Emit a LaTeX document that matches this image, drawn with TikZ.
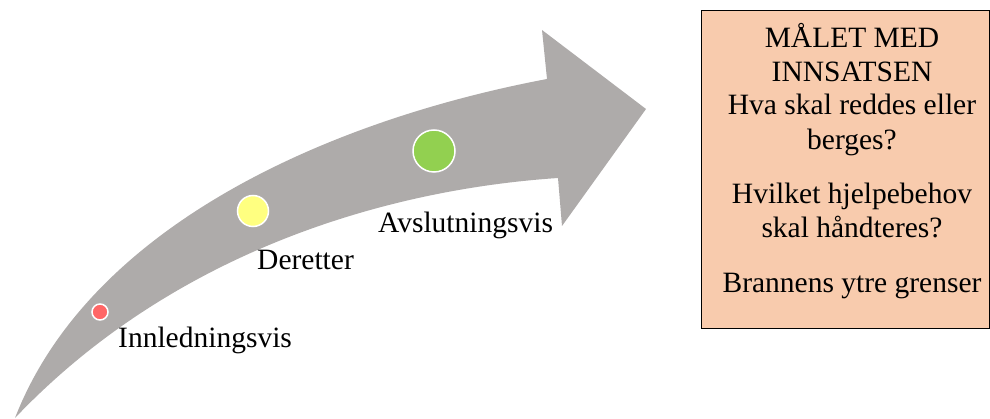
\documentclass[tikz,border=0pt]{standalone}
\usepackage{fontspec}
\setmainfont{Liberation Serif}
\definecolor{arrowgray}{RGB}{174,171,170}
\definecolor{dotred}{RGB}{255,102,102}
\definecolor{dotyellow}{RGB}{255,255,128}
\definecolor{dotgreen}{RGB}{146,208,80}
\definecolor{peach}{RGB}{248,203,173}
\begin{document}
\begin{tikzpicture}[x=1pt,y=-1pt,
  lbl/.style={font=\fontsize{29.5}{34}\selectfont, inner sep=0pt},
  dot/.style={circle, draw=white, line width=1.5pt, inner sep=0pt},
  goalbox/.style={draw=black, line width=0.8pt, fill=peach}]
\useasboundingbox (0,0) rectangle (990,419);
% curved arrow
\fill[arrowgray] (15,418) .. controls (90,225) and (330,120) .. (547,79)
  -- (542,30) -- (646,109) -- (562,226) -- (558,178)
  .. controls (380,190) and (170,255) .. (15,418) -- cycle;
% dots
\node[dot, fill=dotred, minimum size=16pt] (d1) at (100,312) {};
\node[dot, fill=dotyellow, minimum size=31pt] (d2) at (253,211) {};
\node[dot, fill=dotgreen, minimum size=42pt] (d3) at (434,151) {};
% labels
\node[lbl, anchor=base west] (l1) at (118,348) {Innledningsvis};
\node[lbl, anchor=base west] (l2) at (257,270) {Deretter};
\node[lbl, anchor=base west] (l3) at (378,233) {Avslutningsvis};
% goal box
\draw[goalbox] (701,10) rectangle (989,328);
\node[lbl, anchor=base] (t1) at (852,48) {MÅLET MED};
\node[lbl, anchor=base] (t2) at (852,82) {INNSATSEN};
\node[lbl, anchor=base] (t3) at (852,115) {Hva skal reddes eller};
\node[lbl, anchor=base] (t4) at (852,150) {berges?};
\node[lbl, anchor=base] (t5) at (852,204) {Hvilket hjelpebehov};
\node[lbl, anchor=base] (t6) at (852,238) {skal håndteres?};
\node[lbl, anchor=base] (t7) at (852,293) {Brannens ytre grenser};
\end{tikzpicture}
\end{document}
